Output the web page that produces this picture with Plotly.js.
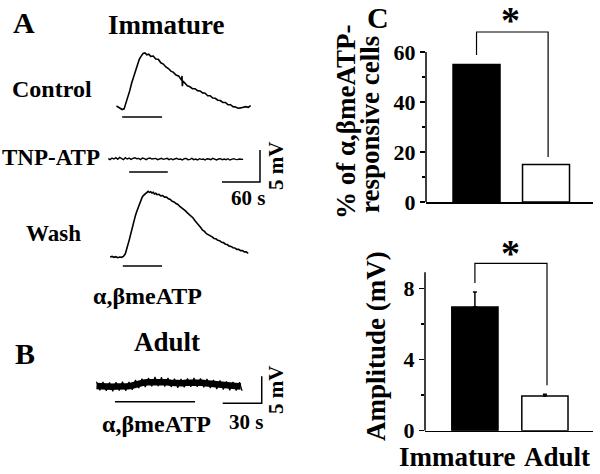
<!DOCTYPE html>
<html><head><meta charset="utf-8">
<script src="https://cdn.plot.ly/plotly-3.0.1.min.js"></script>
<style>html,body{margin:0;padding:0;background:#fff}#chart{width:600px;height:474px}</style>
</head><body><div id="chart"></div>
<script>
// ---------------- DATA ----------------
// Panel A, immature: membrane potential (mV) vs time (s)
const controlT = [26,29,32,35,38,41,44,47,50,53,56,59,62,65,68,71,74,77,80,84,88,92,96,100,104,108,112,116,120,124,127,129,129.5,130,131,134,138,142,146,150,154,158,162,166,170,174,178,182,186,190,194,198,202,206,210,214,218,222,226,230,234,238];
const controlV = [0.0,-0.15,-0.4,-0.55,-0.45,0.4,1.5,2.4,3.6,4.6,5.7,6.7,7.3,7.8,8.2,8.3,8.0,8.1,7.75,7.8,7.35,7.3,6.75,6.55,6.1,5.85,5.45,5.25,4.85,4.7,4.25,4.0,4.7,3.1,3.9,3.55,3.15,3.0,2.7,2.7,2.4,2.35,2.05,2.0,1.6,1.6,1.25,1.2,0.9,0.85,0.55,0.55,0.2,0.2,-0.1,-0.15,-0.35,-0.3,-0.25,-0.1,-0.2,0.05];

const tnpT = [13,16,19,22,25,28,31,34,37,40,43,46,49,52,55,58,61,64,67,70,73,76,79,82,85,88,91,94,97,100,103,106,109,112,115,118,121,124,127,130,133,136,139,142,145,148,151,154,157,160,163,166,169,172,175,178,181,184,187,190,193,196,199,202,205,208,211,214,217,220,223,226];
const tnpV = [0.05,-0.1,0.15,0.0,0.2,-0.05,0.25,0.05,-0.1,0.2,0.0,0.15,-0.05,0.1,0.2,0.05,0.1,-0.1,0.15,0.05,-0.1,0.1,0.15,0.0,0.05,0.1,-0.1,0.0,0.1,-0.05,0.0,0.1,-0.1,0.05,-0.1,0.0,0.1,-0.05,0.0,-0.15,0.05,0.1,-0.1,-0.05,0.1,-0.1,0.0,-0.15,0.05,-0.05,0.0,-0.15,0.05,0.0,-0.1,0.1,-0.05,-0.15,0.0,0.05,-0.1,0.0,-0.1,0.05,-0.15,0.0,0.05,-0.05,-0.1,0.0,0.0,-0.05];

const washT = [16,19,22,25,28,31,34,37,40,42,44,46,48,50,52,54,56,58,60,62,64,66,68,70,72,74,76,78,80,82,84,86,88,90,93,96,99,102,105,108,111,114,117,120,123,126,129,132,135,138,141,144,147,150,153,156,159,162,165,168,171,174,177,180,183,186,189,192,195,198,201,204,207,210,213,216,219,222,225,228,231,234];
const washV = [0.0,0.1,-0.05,0.05,-0.1,0.0,-0.05,0.1,0.5,1.1,1.8,2.6,3.4,4.3,5.0,5.8,6.5,7.1,7.7,8.3,8.8,9.2,9.55,9.75,9.95,10.1,10.25,10.1,10.2,10.0,10.1,9.85,9.95,9.75,9.8,9.55,9.6,9.35,9.35,9.1,9.0,8.7,8.6,8.35,8.2,7.9,7.7,7.4,7.2,6.9,6.65,6.3,6.1,5.65,5.35,4.9,4.6,4.2,4.0,3.65,3.5,3.25,3.15,2.9,2.85,2.6,2.55,2.3,2.25,2.0,1.95,1.7,1.65,1.45,1.4,1.2,1.2,1.0,1.0,0.8,0.8,0.55];

// Stimulus (α,βmeATP) application windows, s
const stimControl = [35, 98];
const stimTnp = [46, 107];
const stimWash = [36, 98];

// Panel B, adult (band centre and its noisy envelope)
const adultT = [5,8,11,14,17,20,23,26,29,32,35,38,41,44,47,50,53,56,59,62,65,68,71,74,77,80,83,86,89,92,95,98,101,104,107,110,113,116];
const adultV = [0.1,0.0,-0.05,0.05,-0.05,0.0,-0.05,0.0,0.05,0.15,0.4,0.6,0.7,0.8,0.85,0.9,0.88,0.85,0.8,0.7,0.62,0.58,0.6,0.68,0.75,0.78,0.75,0.7,0.6,0.5,0.42,0.32,0.25,0.18,0.12,0.08,0.02,0.0];
const adultNoiseT = [5,7.5,10,12.5,15,17.5,20,22.5,25,27.5,30,32.5,35,37.5,40,42.5,45,47.5,50,52.5,55,57.5,60,62.5,65,67.5,70,72.5,75,77.5,80,82.5,85,87.5,90,92.5,95,97.5,100,102.5,105,107.5,110,112.5,115,117];
const adultNoiseV = [0.9,-0.7,0.85,-0.8,0.75,-0.9,0.8,-0.75,0.9,-0.8,0.85,-0.6,1.2,-0.3,1.45,-0.1,1.6,0.05,1.75,0.1,1.7,0.0,1.6,-0.1,1.45,-0.25,1.4,-0.15,1.5,-0.05,1.6,-0.05,1.5,-0.15,1.4,-0.3,1.2,-0.45,1.1,-0.55,0.95,-0.7,0.85,-0.75,0.8,-0.8];
const stimAdult = [19.2, 80.8];

// Scale bars
const scaleA = [60, 5];   // s, mV
const scaleB = [30, 5];   // s, mV

// Panel C
const groups = ['Immature', 'Adult'];
const pctResponsive = [55, 15];
const amplitude = [6.95, 1.95];
const amplitudeErr = [0.85, 0.1];
const pctTicks = [0, 20, 40, 60];
const ampTicks = [0, 4, 8];

// ---------------- LAYOUT ----------------
const W = 600, H = 474;
const fx = (a, b) => [a / W, b / W];
const dy = (top, bottom) => [1 - bottom / H, 1 - top / H];
const FONT = 'Liberation Serif, Times New Roman, serif';
const BLK = '#000';
const hid = {visible: false, fixedrange: true, showgrid: false, zeroline: false};

const barAxisY = (dom, rng, tv, mv) => ({
  domain: dom, range: rng, showline: false, zeroline: false, showgrid: false,
  ticks: 'outside', ticklen: 5, tickwidth: 1.5, tickcolor: BLK, tickvals: tv,
  minor: {tickmode: 'array', tickvals: mv, ticks: 'outside', ticklen: 3, tickwidth: 1.5, tickcolor: BLK, showgrid: false},
  tickfont: {family: FONT, size: 22, color: BLK, weight: 'bold'}, fixedrange: true
});
const barAxisX = (dom, rng, anchor) => ({
  domain: dom, range: rng, anchor: anchor, showline: true, linecolor: BLK, linewidth: 1.5,
  ticks: '', showticklabels: false, showgrid: false, zeroline: false, fixedrange: true
});

const traceLine = (x, y, xa, ya, w) => ({
  type: 'scatter', mode: 'lines', x: x, y: y, xaxis: xa, yaxis: ya,
  line: {color: BLK, width: w, shape: 'linear'}, hoverinfo: 'skip', showlegend: false
});

const data = [
  traceLine(controlT, controlV, 'x', 'y', 1.6),
  traceLine(tnpT, tnpV, 'x', 'y2', 1.4),
  traceLine(washT, washV, 'x', 'y3', 1.6),
  traceLine(adultT, adultV, 'x2', 'y4', 6.5),
  traceLine(adultNoiseT, adultNoiseV, 'x2', 'y4', 1.2),
  {type: 'bar', x: [0, 1], y: pctResponsive, xaxis: 'x3', yaxis: 'y5', width: 0.676,
   marker: {color: ['#000', '#fff'], line: {color: BLK, width: 1.5}}, hoverinfo: 'skip', showlegend: false},
  {type: 'bar', x: [0, 1], y: amplitude, xaxis: 'x4', yaxis: 'y6', width: 0.66,
   marker: {color: ['#000', '#fff'], line: {color: BLK, width: 1.5}},
   error_y: {type: 'data', symmetric: false, array: amplitudeErr, arrayminus: [0, 0], color: BLK, thickness: 1.5, width: 2},
   hoverinfo: 'skip', showlegend: false}
];

const ln = (xref, yref, x0, y0, x1, y1, w) => ({type: 'line', xref, yref, x0, y0, x1, y1, line: {color: BLK, width: w || 1.5}});
const pathShape = (xref, yref, pts, w) => ({type: 'path', xref, yref,
  path: 'M ' + pts.map(p => p[0] + ',' + p[1]).join(' L '), line: {color: BLK, width: w || 1.5}});

const cornerA = [252.6, -3.59];
const cornerB = [132.1, -3.11];

const shapes = [
  ln('x', 'y', stimControl[0], -1.72, stimControl[1], -1.72),
  ln('x', 'y2', stimTnp[0], -2.03, stimTnp[1], -2.03),
  ln('x', 'y3', stimWash[0], -1.4, stimWash[1], -1.4),
  ln('x2', 'y4', stimAdult[0], -2.81, stimAdult[1], -2.81),
  pathShape('x', 'y2', [[cornerA[0] - scaleA[0], cornerA[1]], cornerA, [cornerA[0], cornerA[1] + scaleA[1]]]),
  pathShape('x2', 'y4', [[cornerB[0] - scaleB[0], cornerB[1]], cornerB, [cornerB[0], cornerB[1] + scaleB[1]]]),
  // y axis lines of bar charts
  ln('x3 domain', 'y5', 0, 0, 0, 60),
  ln('x4 domain', 'y6', 0, 0, 0, 8.9),
  // significance brackets
  pathShape('x3', 'y5', [[0, pctResponsive[0] + 3.8], [0, 68], [1.03, 68], [1.03, pctResponsive[1] + 3]], 1.2),
  pathShape('x4', 'y6', [[0, amplitude[0] + amplitudeErr[0] + 0.5], [0, 9.4], [1.03, 9.4], [1.03, amplitude[1] + amplitudeErr[1] + 0.5]], 1.2)
];

const ann = (text, px, py, size, angle) => ({
  text: text, xref: 'paper', yref: 'paper', x: px / W, y: 1 - py / H,
  xanchor: 'center', yanchor: 'middle', showarrow: false, textangle: angle || 0,
  font: {family: FONT, size: size, color: BLK, weight: 'bold'}
});

const annotations = [
  ann('A', 24, 23, 30),
  ann('Immature', 166, 25, 27),
  ann('Control', 52, 89, 24),
  ann('TNP-ATP', 51, 157, 23),
  ann('Wash', 53, 234, 23),
  ann(scaleA[0] + ' s', 248, 198, 21),
  ann(scaleA[1] + ' mV', 276, 166, 21, -90),
  ann('α,βmeATP', 147, 296, 24),
  ann('B', 25, 353, 30),
  ann('Adult', 167, 342, 27),
  ann('α,βmeATP', 156, 424, 24),
  ann(scaleB[0] + ' s', 246, 422, 21),
  ann(scaleB[1] + ' mV', 276, 390, 21, -90),
  ann('C', 378, 18, 30),
  ann('% of α,βmeATP-', 346, 122, 27, -90),
  ann('responsive cells', 370, 125, 27, -90),
  ann('Amplitude (mV)', 376, 346, 27, -90),
  ann(groups[0], 457, 457, 27),
  ann(groups[1], 557, 457, 27),
  ann('*', 510, 20, 38),
  ann('*', 510, 253, 38)
];

const layout = {
  width: W, height: H, autosize: false,
  margin: {l: 0, r: 0, t: 0, b: 0, pad: 0},
  paper_bgcolor: '#fff', plot_bgcolor: 'rgba(0,0,0,0)',
  showlegend: false,
  xaxis: Object.assign({}, hid, {domain: fx(100, 275), range: [0, 276.3], anchor: 'y'}),
  yaxis: Object.assign({}, hid, {domain: dy(40, 125), range: [-2.97, 10.31], anchor: 'x'}),
  yaxis2: Object.assign({}, hid, {domain: dy(135, 190), range: [-4.84, 3.75], anchor: 'x'}),
  yaxis3: Object.assign({}, hid, {domain: dy(180, 275), range: [-2.81, 12.03], anchor: 'x'}),
  xaxis2: Object.assign({}, hid, {domain: fx(90, 270), range: [0, 138.46], anchor: 'y4'}),
  yaxis4: Object.assign({}, hid, {domain: dy(360, 415), range: [-5.28, 4.91], anchor: 'x2'}),
  xaxis3: barAxisX(fx(426, 593), [-0.727, 1.676], 'y5'),
  yaxis5: Object.assign(barAxisY(dy(12, 202), [0, 76], pctTicks, [10, 30, 50]), {anchor: 'x3'}),
  xaxis4: barAxisX(fx(425, 593), [-0.713, 1.687], 'y6'),
  yaxis6: Object.assign(barAxisY(dy(238.5, 430.7), [0, 10.8], ampTicks, [2, 6]), {anchor: 'x4'}),
  shapes: shapes,
  annotations: annotations
};

Plotly.newPlot('chart', data, layout, {displayModeBar: false, staticPlot: true});
</script>
</body></html>
